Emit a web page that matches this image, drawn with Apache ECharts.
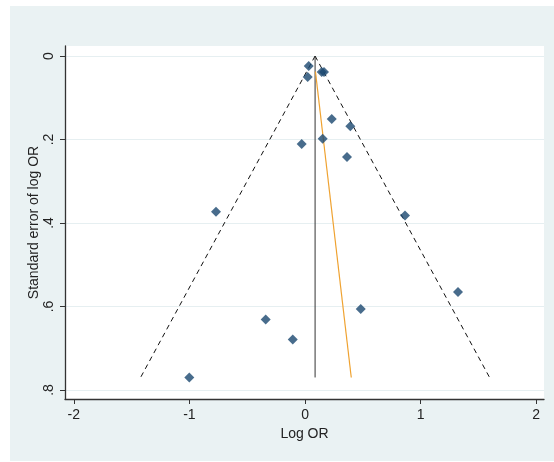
<!DOCTYPE html>
<html>
<head>
<meta charset="utf-8">
<script src="https://cdn.jsdelivr.net/npm/echarts@6/dist/echarts.min.js"></script>
<style>
  html, body { margin: 0; padding: 0; background: #ffffff; }
  #funnel { position: absolute; left: 10px; top: 6px; width: 544px; height: 455px; }
</style>
</head>
<body>
<div id="funnel"></div>
<script>
// study estimates (log OR) and their standard errors
var logOR = [0.032, 0.023, 0.144, 0.164, 0.231, 0.392, 0.153, -0.029, 0.363,
  -0.770, 0.865, 1.323, 0.482, -0.340, -0.106, -1.001];
var seLogOR = [0.024, 0.050, 0.038, 0.038, 0.151, 0.168, 0.198, 0.211, 0.242,
  0.373, 0.382, 0.565, 0.606, 0.631, 0.679, 0.770];
// pooled estimate and funnel depth
var pooled = 0.087;
var maxSE = 0.77;
// regression line (orange)
var eggerX = [0.09, 0.40];
var eggerSE = [0.037, 0.77];
// tick labels
var xTicks = [-2, -1, 0, 1, 2];
var yTicks = [0, 0.2, 0.4, 0.6, 0.8];

var chart = echarts.init(document.getElementById('funnel'));

var points = logOR.map(function (v, i) { return [v, seLogOR[i]]; });
var lowerCI = [[pooled, 0], [pooled - 1.96 * maxSE, maxSE]];
var upperCI = [[pooled, 0], [pooled + 1.96 * maxSE, maxSE]];
var eggerLine = eggerX.map(function (v, i) { return [v, eggerSE[i]]; });

var axisColor = '#333';
var font = 'Liberation Sans';

chart.setOption({
  backgroundColor: '#EAF2F3',
  animation: false,
  grid: {
    left: 55, right: 10, top: 40, bottom: 62,
    show: true, backgroundColor: '#ffffff', borderWidth: 0
  },
  xAxis: {
    type: 'value',
    min: -2.076, max: 2.067,
    name: 'Log OR',
    nameLocation: 'middle',
    nameGap: 28,
    nameMoveOverlap: false,
    nameTextStyle: { fontFamily: font, fontSize: 14, color: '#222' },
    axisLine: { onZero: false, lineStyle: { color: axisColor, width: 1.3 } },
    axisTick: { customValues: xTicks, length: 5, lineStyle: { color: axisColor } },
    axisLabel: { customValues: xTicks, fontFamily: font, fontSize: 14, color: '#222', margin: 9 },
    splitLine: { show: false }
  },
  yAxis: {
    type: 'value',
    inverse: true,
    min: -0.024, max: 0.8216,
    name: 'Standard error of log OR',
    nameLocation: 'middle',
    nameRotate: 90,
    nameGap: 24,
    nameMoveOverlap: false,
    nameTextStyle: { fontFamily: font, fontSize: 14, color: '#222' },
    axisLine: { onZero: false, lineStyle: { color: axisColor, width: 1.3 } },
    axisTick: { customValues: yTicks, length: 5, lineStyle: { color: axisColor } },
    axisLabel: {
      customValues: yTicks, rotate: 90, fontFamily: font, fontSize: 14, color: '#222', margin: 9,
      formatter: function (v) { return v === 0 ? '0' : String(+v.toFixed(1)).replace('0.', '.'); }
    },
    splitLine: { show: true, lineStyle: { color: '#E6EFF1', width: 1 } }
  },
  series: [
    {
      type: 'line', data: lowerCI, symbol: 'none', silent: true,
      lineStyle: { color: '#111', width: 1, type: [5, 4] }
    },
    {
      type: 'line', data: upperCI, symbol: 'none', silent: true,
      lineStyle: { color: '#111', width: 1, type: [5, 4] }
    },
    {
      type: 'line', data: [[pooled, 0], [pooled, maxSE]], symbol: 'none', silent: true,
      lineStyle: { color: '#333', width: 1 }
    },
    {
      type: 'line', data: eggerLine, symbol: 'none', silent: true,
      lineStyle: { color: '#EFA230', width: 1.2 }
    },
    {
      type: 'scatter', data: points, symbol: 'diamond', symbolSize: 10, z: 5,
      itemStyle: { color: '#1A476F' }
    }
  ]
});
</script>
</body>
</html>
